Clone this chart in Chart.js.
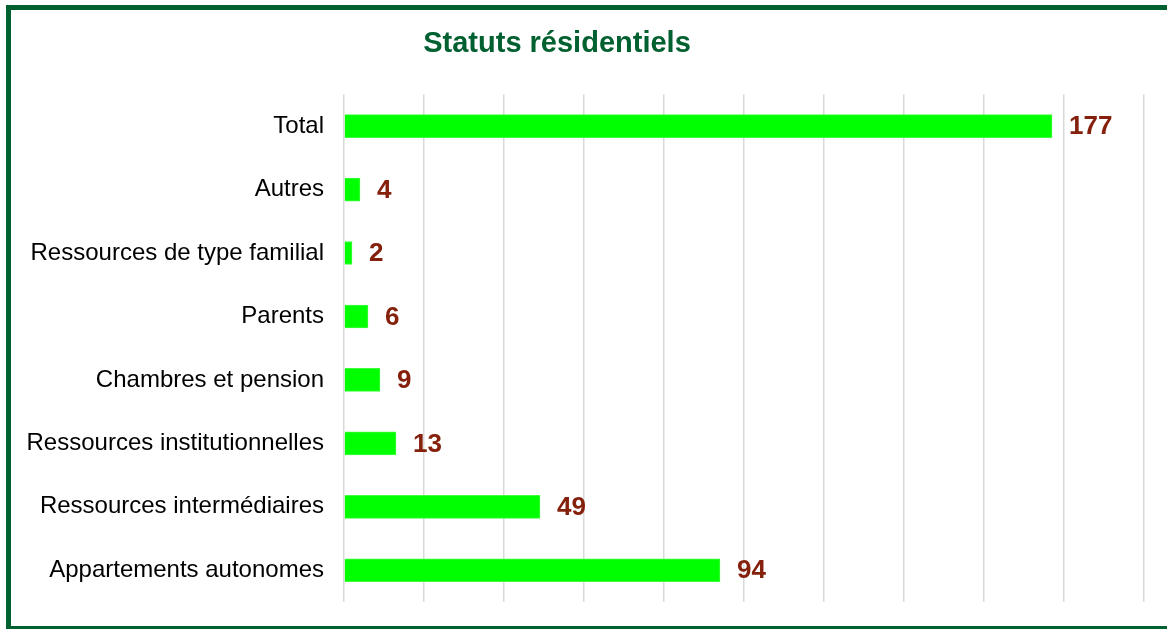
<!DOCTYPE html>
<html lang="fr">
<head>
<meta charset="utf-8">
<title>Statuts résidentiels</title>
<script src="https://cdn.jsdelivr.net/npm/chart.js@4.4.1/dist/chart.umd.min.js"></script>
<style>
  html, body { margin: 0; padding: 0; overflow: hidden; background: #fff; }
  /* Cadre vert foncé autour du graphique (le bord droit sort de l'écran) */
  #cadre {
    position: absolute;
    left: 6px;
    top: 5px;
    width: 1170px;
    height: 626px;
    box-sizing: border-box;
    border: 5px solid #006030;
    background: #fff;
  }
  #grafica { display: block; }
</style>
</head>
<body>
<div id="cadre">
  <canvas id="grafica" width="1160" height="616"></canvas>
</div>
<script>
// Données du graphique (de haut en bas)
const categories = [
  "Total",
  "Autres",
  "Ressources de type familial",
  "Parents",
  "Chambres et pension",
  "Ressources institutionnelles",
  "Ressources intermédiaires",
  "Appartements autonomes",
];
const valeurs = [177, 4, 2, 6, 9, 13, 49, 94];
const titre = "Statuts résidentiels";
const axeMax = 200;
const axePas = 20;

document.addEventListener("DOMContentLoaded", () => {
  const $ = (id) => document.getElementById(id);
  const canvas = $("grafica");

  const POLICE = "'Liberation Sans', Arial, sans-serif";

  // Étiquettes de valeur à droite de chaque barre
  const etiquettesValeurs = {
    id: "etiquettesValeurs",
    afterDatasetsDraw(chart) {
      const ctx = chart.ctx;
      const meta = chart.getDatasetMeta(0);
      ctx.save();
      ctx.font = `bold 26px ${POLICE}`;
      ctx.fillStyle = "#84200c";
      ctx.textAlign = "left";
      ctx.textBaseline = "middle";
      meta.data.forEach((bar, i) => {
        ctx.fillText(String(chart.data.datasets[0].data[i]), bar.x + 17, bar.y + 1);
      });
      ctx.restore();
    },
  };

  // Le titre n'est pas centré sur toute la largeur dans l'original
  const decalageTitre = {
    id: "decalageTitre",
    afterLayout(chart) {
      if (!chart.titleBlock) return;
      chart.titleBlock.left = 0;
      chart.titleBlock.right = 1092;
    },
  };

  new Chart(canvas, {
    type: "bar",
    data: {
      labels: categories,
      datasets: [
        {
          label: titre,
          data: valeurs,
          backgroundColor: "#00ff00",
          borderColor: "#40ff40",
          borderWidth: 1,
          barThickness: 23,
        },
      ],
    },
    options: {
      indexAxis: "y",
      responsive: false,
      animation: false,
      layout: {
        padding: { left: 0, right: 27, top: 0, bottom: 24 },
      },
      plugins: {
        legend: { display: false },
        tooltip: { enabled: false },
        title: {
          display: true,
          text: titre,
          color: "#006030",
          font: { family: POLICE, size: 29, weight: "bold" },
          padding: { top: 16.6, bottom: 33 },
        },
      },
      scales: {
        x: {
          min: 0,
          max: axeMax,
          ticks: { display: false, stepSize: axePas },
          grid: {
            color: "#d9d9d9",
            lineWidth: 1.5,
            drawTicks: false,
          },
          border: { display: false },
        },
        y: {
          ticks: {
            color: "#000",
            padding: 20,
            font: { family: POLICE, size: 24 },
          },
          grid: { display: false, drawTicks: false },
          border: { display: false },
          afterFit(axis) {
            // largeur fixe + pas de marge haut/bas due aux libellés
            axis.width = 333;
            axis.paddingTop = 0;
            axis.paddingBottom = 0;
          },
        },
      },
    },
    plugins: [etiquettesValeurs, decalageTitre],
  });
});
</script>
</body>
</html>
